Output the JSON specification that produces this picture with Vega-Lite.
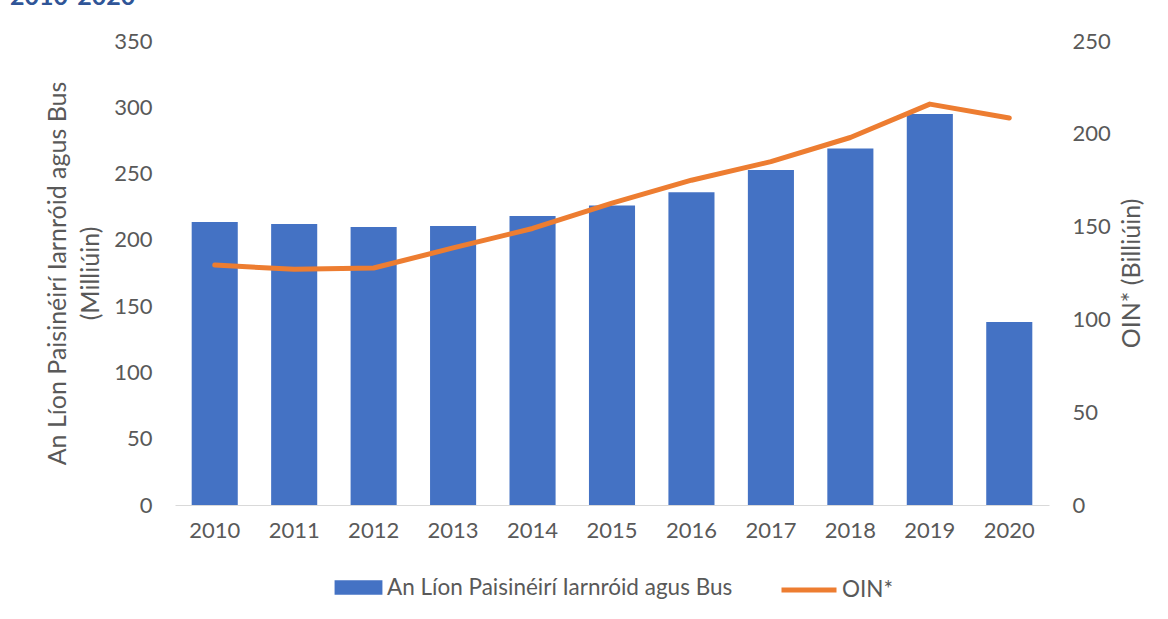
{
  "$schema": "https://vega.github.io/schema/vega-lite/v6.json",
  "width": 874,
  "height": 464,
  "autosize": {"type": "none"},
  "padding": {"left": 175, "top": 41, "right": 119, "bottom": 114},
  "background": "white",
  "title": {"text": "2010-2020", "anchor": "start", "frame": "group", "dx": -165, "dy": 10, "offset": 10, "baseline": "alphabetic", "fontSize": 25, "font": "Lato", "fontWeight": "bold", "color": "#2F5597"},
  "data": {"values": [
    {"year": "2010", "passengers": 213.5, "oin": 129.3},
    {"year": "2011", "passengers": 212, "oin": 127},
    {"year": "2012", "passengers": 209.7, "oin": 127.7},
    {"year": "2013", "passengers": 210.5, "oin": 138.5},
    {"year": "2014", "passengers": 218, "oin": 149},
    {"year": "2015", "passengers": 226, "oin": 162.7},
    {"year": "2016", "passengers": 236, "oin": 175},
    {"year": "2017", "passengers": 252.7, "oin": 185},
    {"year": "2018", "passengers": 269, "oin": 198},
    {"year": "2019", "passengers": 295, "oin": 216},
    {"year": "2020", "passengers": 138, "oin": 208.5}
  ]},
  "encoding": {
    "x": {"field": "year", "type": "ordinal", "scale": {"paddingInner": 0.42, "paddingOuter": 0.21},
      "axis": {"title": null, "labelAngle": 0, "ticks": false, "domainColor": "#d9d9d9", "domainWidth": 1, "labelPadding": 15, "labelFontSize": 22, "labelFont": "Lato", "labelColor": "#595959", "labelBaseline": "top"}}
  },
  "layer": [
    {
      "mark": {"type": "bar"},
      "encoding": {
        "y": {"field": "passengers", "type": "quantitative", "scale": {"domain": [0, 350]},
          "axis": {"orient": "left", "values": [0, 50, 100, 150, 200, 250, 300, 350], "domain": false, "ticks": false, "grid": false, "labelPadding": 23, "labelFontSize": 22, "labelFont": "Lato", "labelColor": "#595959",
            "title": ["An Líon Paisinéirí Iarnróid agus Bus", "(Milliúin)"], "titleFont": "Lato", "titleFontSize": 25, "titleFontWeight": "normal", "titleColor": "#595959", "titlePadding": 10, "titleLineHeight": 33}},
        "fill": {"datum": "An Líon Paisinéirí Iarnróid agus Bus", "type": "nominal", "scale": {"range": ["#4472C4"]},
          "legend": {"title": null, "orient": "bottom", "symbolType": "M-0.87,-0.26L0.87,-0.26L0.87,0.26L-0.87,0.26Z", "symbolSize": 3025, "symbolStrokeWidth": 0, "labelFont": "Lato", "labelFontSize": 22.5, "labelColor": "#595959", "labelOffset": 1, "labelLimit": 1000}}
      }
    },
    {
      "mark": {"type": "line", "strokeWidth": 5, "strokeCap": "round", "strokeJoin": "round"},
      "encoding": {
        "y": {"field": "oin", "type": "quantitative", "scale": {"domain": [0, 250]},
          "axis": {"orient": "right", "values": [0, 50, 100, 150, 200, 250], "domain": false, "ticks": false, "grid": false, "labelPadding": 23, "labelFontSize": 22, "labelFont": "Lato", "labelColor": "#595959",
            "title": "OIN* (Billiúin)", "titleAngle": 270, "titleBaseline": "top", "titleFont": "Lato", "titleFontSize": 25, "titleFontWeight": "normal", "titleColor": "#595959", "titlePadding": 9}},
        "stroke": {"datum": "OIN*", "type": "nominal", "scale": {"range": ["#ED7D31"]},
          "legend": {"title": null, "orient": "bottom", "symbolType": "stroke", "symbolSize": 3025, "symbolStrokeWidth": 5, "labelFont": "Lato", "labelFontSize": 22.5, "labelColor": "#595959", "labelOffset": 3, "labelLimit": 1000}}
      }
    }
  ],
  "resolve": {"scale": {"y": "independent", "fill": "independent", "stroke": "independent"}},
  "config": {"view": {"stroke": null}, "legend": {"offset": 19, "layout": {"bottom": {"anchor": "middle", "direction": "horizontal", "margin": 46}}}}
}
